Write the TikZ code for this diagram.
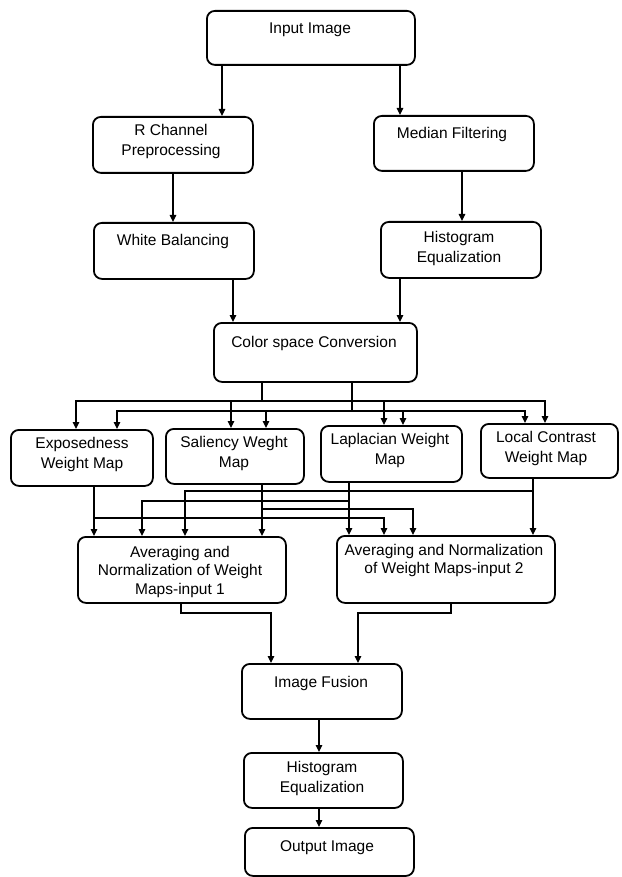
\documentclass[tikz,border=0pt]{standalone}
\usepackage{fontspec}
\setmainfont{Liberation Sans}
\usetikzlibrary{arrows.meta}
\begin{document}
\begin{tikzpicture}[x=1pt,y=-1pt,
  box/.style={draw, line width=1.8pt, rounded corners=8pt, anchor=north west, inner sep=0pt},
  txt/.style={anchor=north, inner sep=0pt, align=center, font=\fontsize{15.5}{20}\selectfont},
  txtb/.style={txt, font=\fontsize{15.5}{18.5}\selectfont},
  arr/.style={line width=1.1pt, -{Triangle[length=7pt,width=6.5pt]}}]
\useasboundingbox (0,0) rectangle (621,877);

% boxes
\node[box, minimum width=208pt, minimum height=54pt] (in) at (206,10) {};
\node[box, minimum width=160pt, minimum height=56pt] (rc) at (92,116) {};
\node[box, minimum width=160pt, minimum height=55pt] (mf) at (373,115) {};
\node[box, minimum width=160pt, minimum height=56pt] (wb) at (93,222) {};
\node[box, minimum width=160pt, minimum height=56pt] (he) at (380,221) {};
\node[box, minimum width=203pt, minimum height=59pt] (cs) at (213,322) {};
\node[box, minimum width=142pt, minimum height=56pt] (ex) at (10,429) {};
\node[box, minimum width=138pt, minimum height=55pt] (sa) at (165,428) {};
\node[box, minimum width=141pt, minimum height=56pt] (la) at (320,425) {};
\node[box, minimum width=137pt, minimum height=54pt] (lc) at (480,423) {};
\node[box, minimum width=208pt, minimum height=66pt] (a1) at (77,536) {};
\node[box, minimum width=218pt, minimum height=67pt] (a2) at (336,535) {};
\node[box, minimum width=160pt, minimum height=55pt] (fu) at (241,663) {};
\node[box, minimum width=159pt, minimum height=55pt] (h2) at (243,752) {};
\node[box, minimum width=169pt, minimum height=48pt] (out) at (244,827) {};

% texts
\node[txt] (in-t) at (310,23) {Input Image};
\node[txt] (rc-t) at (171,124) {R Channel\\Preprocessing};
\node[txt] (mf-t) at (452,127) {Median Filtering};
\node[txt] (wb-t) at (173,234) {White Balancing};
\node[txt] (he-t) at (459,231) {Histogram\\Equalization};
\node[txt] (cs-t) at (314,336) {Color space Conversion};
\node[txt] (ex-t) at (82,437) {Exposedness\\Weight Map};
\node[txt] (sa-t) at (234,436) {Saliency Weght\\Map};
\node[txt] (la-t) at (390,433) {Laplacian Weight\\Map};
\node[txt] (lc-t) at (546,431) {Local Contrast\\Weight Map};
\node[txtb] (a1-t) at (180,546) {Averaging and\\Normalization of Weight\\Maps-input 1};
\node[txtb] (a2-t) at (444,544) {Averaging and Normalization\\of Weight Maps-input 2};
\node[txt] (fu-t) at (321,676) {Image Fusion};
\node[txt] (h2-t) at (322,761) {Histogram\\Equalization};
\node[txt] (out-t) at (327,840) {Output Image};

% connectors top
\draw[arr] (in.south -| 222,0) -- (rc.north -| 222,0);
\draw[arr] (in.south -| 400,0) -- (mf.north -| 400,0);
\draw[arr] (rc.south -| 173,0) -- (wb.north -| 173,0);
\draw[arr] (mf.south -| 462,0) -- (he.north -| 462,0);
\draw[arr] (wb.south -| 233,0) -- (cs.north -| 233,0);
\draw[arr] (he.south -| 400,0) -- (cs.north -| 400,0);

% fan-out from colour space conversion
\foreach \t/\x in {ex/76, sa/231, la/384, lc/545}
  \draw[arr] (cs.south -| 262,0) -- (262,401) -- (\x,401) -- (\t.north -| \x,0);
\foreach \t/\x in {ex/117, sa/266, la/403, lc/525}
  \draw[arr] (cs.south -| 352,0) -- (352,411) -- (\x,411) -- (\t.north -| \x,0);

% weight maps to averaging
\draw[arr] (ex.south -| 94,0) -- (a1.north -| 94,0);
\draw[arr] (ex.south -| 94,0) -- (94,518) -- (384,518) -- (a2.north -| 384,0);
\draw[arr] (sa.south -| 262,0) -- (a1.north -| 262,0);
\draw[arr] (sa.south -| 262,0) -- (262,509) -- (413,509) -- (a2.north -| 413,0);
\draw[arr] (la.south -| 349,0) -- (a2.north -| 349,0);
\draw[arr] (la.south -| 349,0) -- (349,501) -- (142,501) -- (a1.north -| 142,0);
\draw[arr] (lc.south -| 533,0) -- (a2.north -| 533,0);
\draw[arr] (lc.south -| 533,0) -- (533,491) -- (185,491) -- (a1.north -| 185,0);

% bottom chain
\draw[arr] (a1.south -| 181,0) -- (181,613) -- (271,613) -- (fu.north -| 271,0);
\draw[arr] (a2.south -| 451,0) -- (451,613) -- (358,613) -- (fu.north -| 358,0);
\draw[arr] (fu.south -| 319,0) -- (h2.north -| 319,0);
\draw[arr] (h2.south -| 319,0) -- (out.north -| 319,0);
\end{tikzpicture}
\end{document}
